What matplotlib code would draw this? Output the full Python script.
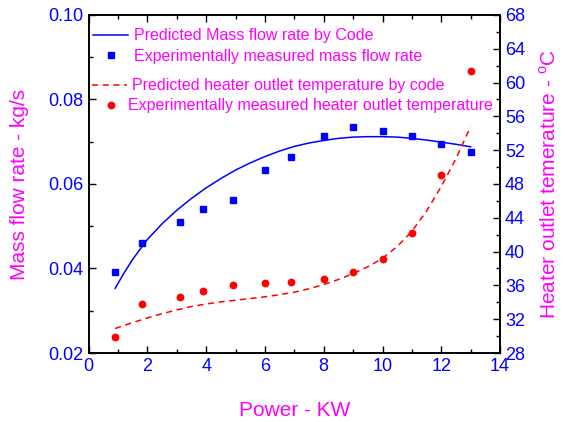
import numpy as np
import matplotlib
matplotlib.use('Agg')
import matplotlib.pyplot as plt
from matplotlib.ticker import MultipleLocator, FormatStrFormatter

plt.rcParams['font.family'] = ['Liberation Sans', 'DejaVu Sans']
plt.rcParams['mathtext.fontset'] = 'custom'
plt.rcParams['mathtext.rm'] = 'Liberation Sans'

######## data
power = [0.9, 1.8, 3.1, 3.9, 4.9, 6.0, 6.9, 8.0, 9.0, 10.0, 11.0, 12.0, 13.0]
flow_exp = [0.0392, 0.0460, 0.0509, 0.0541, 0.0562, 0.0633, 0.0663,
            0.0714, 0.0736, 0.0725, 0.0714, 0.0694, 0.0675]
temp_exp = [29.9, 33.8, 34.6, 35.3, 36.1, 36.3, 36.4, 36.8, 37.6, 39.1,
            42.2, 49.1, 61.4]

####### predicted curves
power_fit = [0.9, 1.2, 1.5, 2.0, 2.5, 3.0, 3.5, 4.0, 4.5, 5.0, 5.5, 6.0, 6.5,
             7.0, 7.5, 8.0, 8.5, 9.0, 9.5, 10.0, 10.5, 11.0, 11.5, 12.0,
             12.5, 13.0]
flow_fit = [0.0353, 0.0389, 0.0422, 0.0469, 0.0506, 0.0538, 0.0566, 0.0591,
            0.0613, 0.0633, 0.0650, 0.0665, 0.0678, 0.0689, 0.0697, 0.0703,
            0.0708, 0.0711, 0.0712, 0.0712, 0.0711, 0.0708, 0.0704, 0.0699,
            0.0694, 0.0688]
temp_fit = [30.9, 31.25, 31.6, 32.15, 32.65, 33.1, 33.5, 33.8, 34.05, 34.25,
            34.45, 34.65, 34.9, 35.2, 35.6, 36.1, 36.7, 37.4, 38.2, 39.2,
            40.6, 42.4, 44.8, 47.7, 51.0, 54.8]

labels = ['Predicted Mass flow rate by Code',
          'Experimentally measured mass flow rate',
          'Predicted heater outlet temperature by code',
          'Experimentally measured heater outlet temperature']

blue = '#0000FF'
red = '#FF0000'
mag = '#FF00FF'

fig = plt.figure(figsize=(5.65, 4.22), dpi=100)
ax = fig.add_axes([0.157, 0.1635, 0.728, 0.801])
ax2 = ax.twinx()

l1, = ax.plot(power_fit, flow_fit, '-', color=blue, lw=1.1)
p1, = ax.plot(power, flow_exp, 's', color=blue, ms=4.3, lw=0)
l2, = ax2.plot(power_fit, temp_fit, '--', color=red, lw=1.1, dashes=(4, 3))
p2, = ax2.plot(power, temp_exp, 'o', color=red, ms=4.6, lw=0)

ax.set_xlim(0, 14)
ax.set_ylim(0.02, 0.10)
ax2.set_ylim(28, 68)

ax.xaxis.set_major_locator(MultipleLocator(2))
ax.xaxis.set_minor_locator(MultipleLocator(1))
ax.yaxis.set_major_locator(MultipleLocator(0.02))
ax.yaxis.set_minor_locator(MultipleLocator(0.01))
ax.yaxis.set_major_formatter(FormatStrFormatter('%.2f'))
ax2.yaxis.set_major_locator(MultipleLocator(4))
ax2.yaxis.set_minor_locator(MultipleLocator(2))

ax.tick_params(which='both', direction='in', top=True, right=False,
               labelcolor=blue, labelsize=13, width=1)
ax.tick_params(which='major', length=5)
ax.tick_params(which='minor', length=3)
ax2.tick_params(which='both', direction='in', labelcolor=blue, labelsize=13, width=1)
ax2.tick_params(which='major', length=5)
ax2.tick_params(which='minor', length=3)
for a in (ax, ax2):
    for s in a.spines.values():
        s.set_linewidth(1.2)

ax.set_xlabel('Power - KW', color=mag, fontsize=15, labelpad=19)
ax.set_ylabel('Mass flow rate - kg/s', color=mag, fontsize=15, labelpad=14)
ax2.set_ylabel(r'Heater outlet temerature - $^\mathregular{o}$C', color=mag,
               fontsize=15, labelpad=10)

####### one legend per entry, the original has them offset a bit
handles = [l1, p1, l2, p2]
anchors = [(0.0107, 0.938), (0.0107, 0.877), (0.008, 0.790), (0.0107, 0.731)]
pads = [0.38, 0.38, 0.32, 0.0]
legs = []
for h, lab, anc, pad in zip(handles, labels, anchors, pads):
    leg = ax2.legend([h], [lab], loc='center left', bbox_to_anchor=anc,
                     frameon=False, fontsize=11.5, labelcolor=mag,
                     handlelength=2.2, handletextpad=pad, borderpad=0,
                     borderaxespad=0)
    legs.append(leg)
for leg in legs[:-1]:
    ax2.add_artist(leg)

plt.savefig('out.png', dpi=100)
